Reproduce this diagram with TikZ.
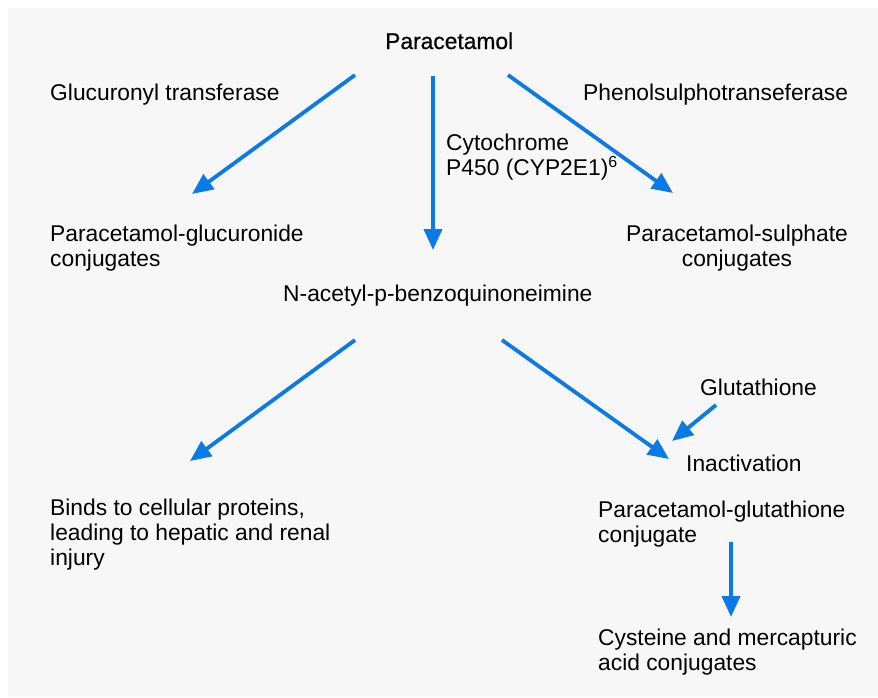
\documentclass[tikz,border=0pt]{standalone}
\usepackage{fontspec}
\setmainfont{Liberation Sans}
\newfontfamily\headfont[FakeBold=0.6]{Liberation Sans}
\usetikzlibrary{arrows.meta}
\definecolor{bgpanel}{HTML}{F7F7F7}
\definecolor{flowblue}{HTML}{0A7BE6}
\tikzset{
  lbl/.style={inner sep=0pt, anchor=base west, align=left, font=\fontsize{22.8}{25}\selectfont},
  lblc/.style={inner sep=0pt, anchor=base, align=center, font=\fontsize{22.8}{25}\selectfont},
  flow/.style={draw=flowblue, line width=3.8pt, -{Triangle[length=21pt,width=18pt]}}
}
\begin{document}
\begin{tikzpicture}[x=1pt,y=-1pt]
\useasboundingbox (0,0) rectangle (878,697);
\fill[white] (0,0) rectangle (878,697);
\fill[bgpanel] (8,8) rectangle (878,697);

\node[lbl] (para) at (385,49) {\headfont Paracetamol};
\node[lbl] (gt) at (50,100) {Glucuronyl transferase};
\node[lbl] (ps) at (583,100) {Phenolsulphotranseferase};
\node[lbl] (cyp) at (446,175) {Cytochrome\\P450 (CYP2E1)\textsuperscript{6}};
\node[lbl] (pgc) at (50,266) {Paracetamol-glucuronide\\conjugates};
\node[lblc] (psc) at (737,266) {Paracetamol-sulphate\\conjugates};
\node[lbl] (napqi) at (283,301) {N-acetyl-p-benzoquinoneimine};
\node[lbl] (glu) at (700,395) {Glutathione};
\node[lbl] (inact) at (686,471) {Inactivation};
\node[lbl] (binds) at (50,565) {Binds to cellular proteins,\\leading to hepatic and renal\\injury};
\node[lbl] (pglc) at (598,542) {Paracetamol-glutathione\\conjugate};
\node[lbl] (cys) at (598,670) {Cysteine and mercapturic\\acid conjugates};

\coordinate (a1s) at (355,75);  \coordinate (a1e) at (192,194);
\coordinate (a2s) at (433,76);  \coordinate (a2e) at (433,250);
\coordinate (a3s) at (508,75);  \coordinate (a3e) at (673,193);
\coordinate (a4s) at (355,340); \coordinate (a4e) at (190,461);
\coordinate (a5s) at (502,340); \coordinate (a5e) at (669,459);
\coordinate (a6s) at (716,405); \coordinate (a6e) at (672,441);
\coordinate (a7s) at (731,542); \coordinate (a7e) at (731,617);

\draw[flow] (a1s) -- (a1e);
\draw[flow] (a2s) -- (a2e);
\draw[flow] (a3s) -- (a3e);
\draw[flow] (a4s) -- (a4e);
\draw[flow] (a5s) -- (a5e);
\draw[flow] (a6s) -- (a6e);
\draw[flow] (a7s) -- (a7e);
\end{tikzpicture}
\end{document}
